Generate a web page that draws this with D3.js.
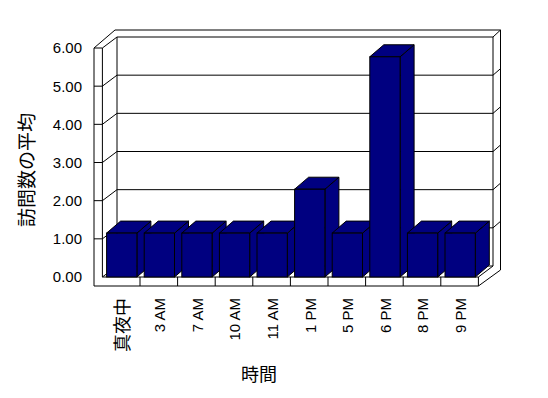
<!DOCTYPE html>
<html><head><meta charset="utf-8">
<script src="https://cdn.jsdelivr.net/npm/d3@7"></script>
<style>
html,body{margin:0;padding:0;background:#fff;}
svg{display:block;}
text{font-family:"Liberation Sans",Arial,sans-serif;fill:#000;}
.cjk{font-family:"Noto Sans CJK JP","Noto Sans CJK SC",sans-serif;}
</style>
</head><body>
<script>
const categories = ["真夜中","3 AM","7 AM","10 AM","11 AM","1 PM","5 PM","6 PM","8 PM","9 PM"];
const values = [1.15,1.15,1.15,1.15,1.15,2.3,1.15,5.77,1.15,1.15];
const yTicks = [0,1,2,3,4,5,6];
const yTitle = "訪問数の平均";
const xTitle = "時間";

const W = 548, H = 398;
const svg = d3.select("body").append("svg").attr("width", W).attr("height", H);

const x = d3.scaleBand().domain(categories).range([102.4, 478.4]).padding(0);
const y = d3.scaleLinear().domain([0, 6]).range([277, 48]);

// geometry of the 3D box
const wallL = 94, front0 = x.range()[0], frontR = x.range()[1];
const dX = 14.6, dY = -11;          // depth offset of back wall
const backL = front0 + dX, backR = frontR + dX;
const outerR = 500.5, outerTop = 30;
const floorBot = 286;
const y0 = y(0), yTop = y(6);

const g = svg.append("g").attr("fill", "none").attr("stroke", "#000").attr("stroke-width", 1);
const line = (pts) => g.append("path").attr("d", d3.line()(pts));

// left wall front face
line([[wallL, floorBot], [wallL, yTop], [front0, yTop], [front0, y0]]);
// left wall top outer
line([[wallL, yTop], [115, outerTop], [outerR, outerTop], [outerR, 270]]);
// back wall inner top / right
line([[front0, yTop], [backL, yTop + dY], [backR, yTop + dY], [outerR, outerTop]]);
line([[backR, yTop + dY], [backR, y0 + dY]]);
// back wall left edge & bottom
line([[backL, yTop + dY], [backL, y0 + dY], [backR, y0 + dY]]);
line([[front0, y0], [backL, y0 + dY]]);
// floor
line([[wallL, floorBot], [frontR, floorBot], [frontR, y0], [front0, y0]]);
line([[frontR, y0], [backR, y0 + dY]]);
line([[frontR, floorBot], [outerR, 270]]);
// floor dividers
categories.slice(1).forEach(c => line([[x(c), y0], [x(c), floorBot]]));

// gridlines
yTicks.filter(v => v > 0 && v < 6).forEach(v => {
  const yy = y(v);
  line([[wallL, yy], [front0, yy], [backL, yy + dY], [backR, yy + dY], [outerR, yy + dY - 6.5]]);
});

// bars
const bW = 30.3, bOff = 4.2, bdx = 14, bdy = -12;
const bars = svg.append("g").attr("fill", "#000080").attr("stroke", "#000").attr("stroke-width", 1).attr("stroke-linejoin", "miter");
categories.forEach((c, i) => {
  const x0 = x(c) + bOff, x1 = x0 + bW, yt = y(values[i]), yb = y0;
  const bg = bars.append("g");
  bg.append("path").attr("d", d3.line()([[x1, yt], [x1 + bdx, yt + bdy], [x1 + bdx, yb + bdy], [x1, yb]]) + "Z");
  bg.append("path").attr("d", d3.line()([[x0, yt], [x0 + bdx, yt + bdy], [x1 + bdx, yt + bdy], [x1, yt]]) + "Z");
  bg.append("rect").attr("x", x0).attr("y", yt).attr("width", bW).attr("height", yb - yt);
});

// y tick labels
const fmt = d3.format(".2f");
svg.append("g").selectAll("text").data(yTicks).join("text")
  .attr("x", 82).attr("y", d => y(d)).attr("dy", "0.36em")
  .attr("text-anchor", "end").attr("font-size", 15)
  .text(d => fmt(d));

// x tick labels
svg.append("g").selectAll("text").data(categories).join("text")
  .attr("class", d => /[^\x00-\x7f]/.test(d) ? "cjk" : null)
  .attr("transform", d => `translate(${x(d) + x.bandwidth() / 2 + 1},298) rotate(-90)`)
  .attr("text-anchor", "end").attr("dy", "0.36em")
  .attr("font-size", d => /[^\x00-\x7f]/.test(d) ? 18 : 15)
  .text(d => d);

// axis titles
svg.append("text").attr("class", "cjk")
  .attr("transform", "translate(27,170) rotate(-90)")
  .attr("text-anchor", "middle").attr("dy", "0.36em")
  .attr("font-size", 19).text(yTitle);
svg.append("text").attr("class", "cjk")
  .attr("x", 259).attr("y", 375).attr("dy", "0.36em")
  .attr("text-anchor", "middle").attr("font-size", 18).text(xTitle);
</script>
</body></html>
